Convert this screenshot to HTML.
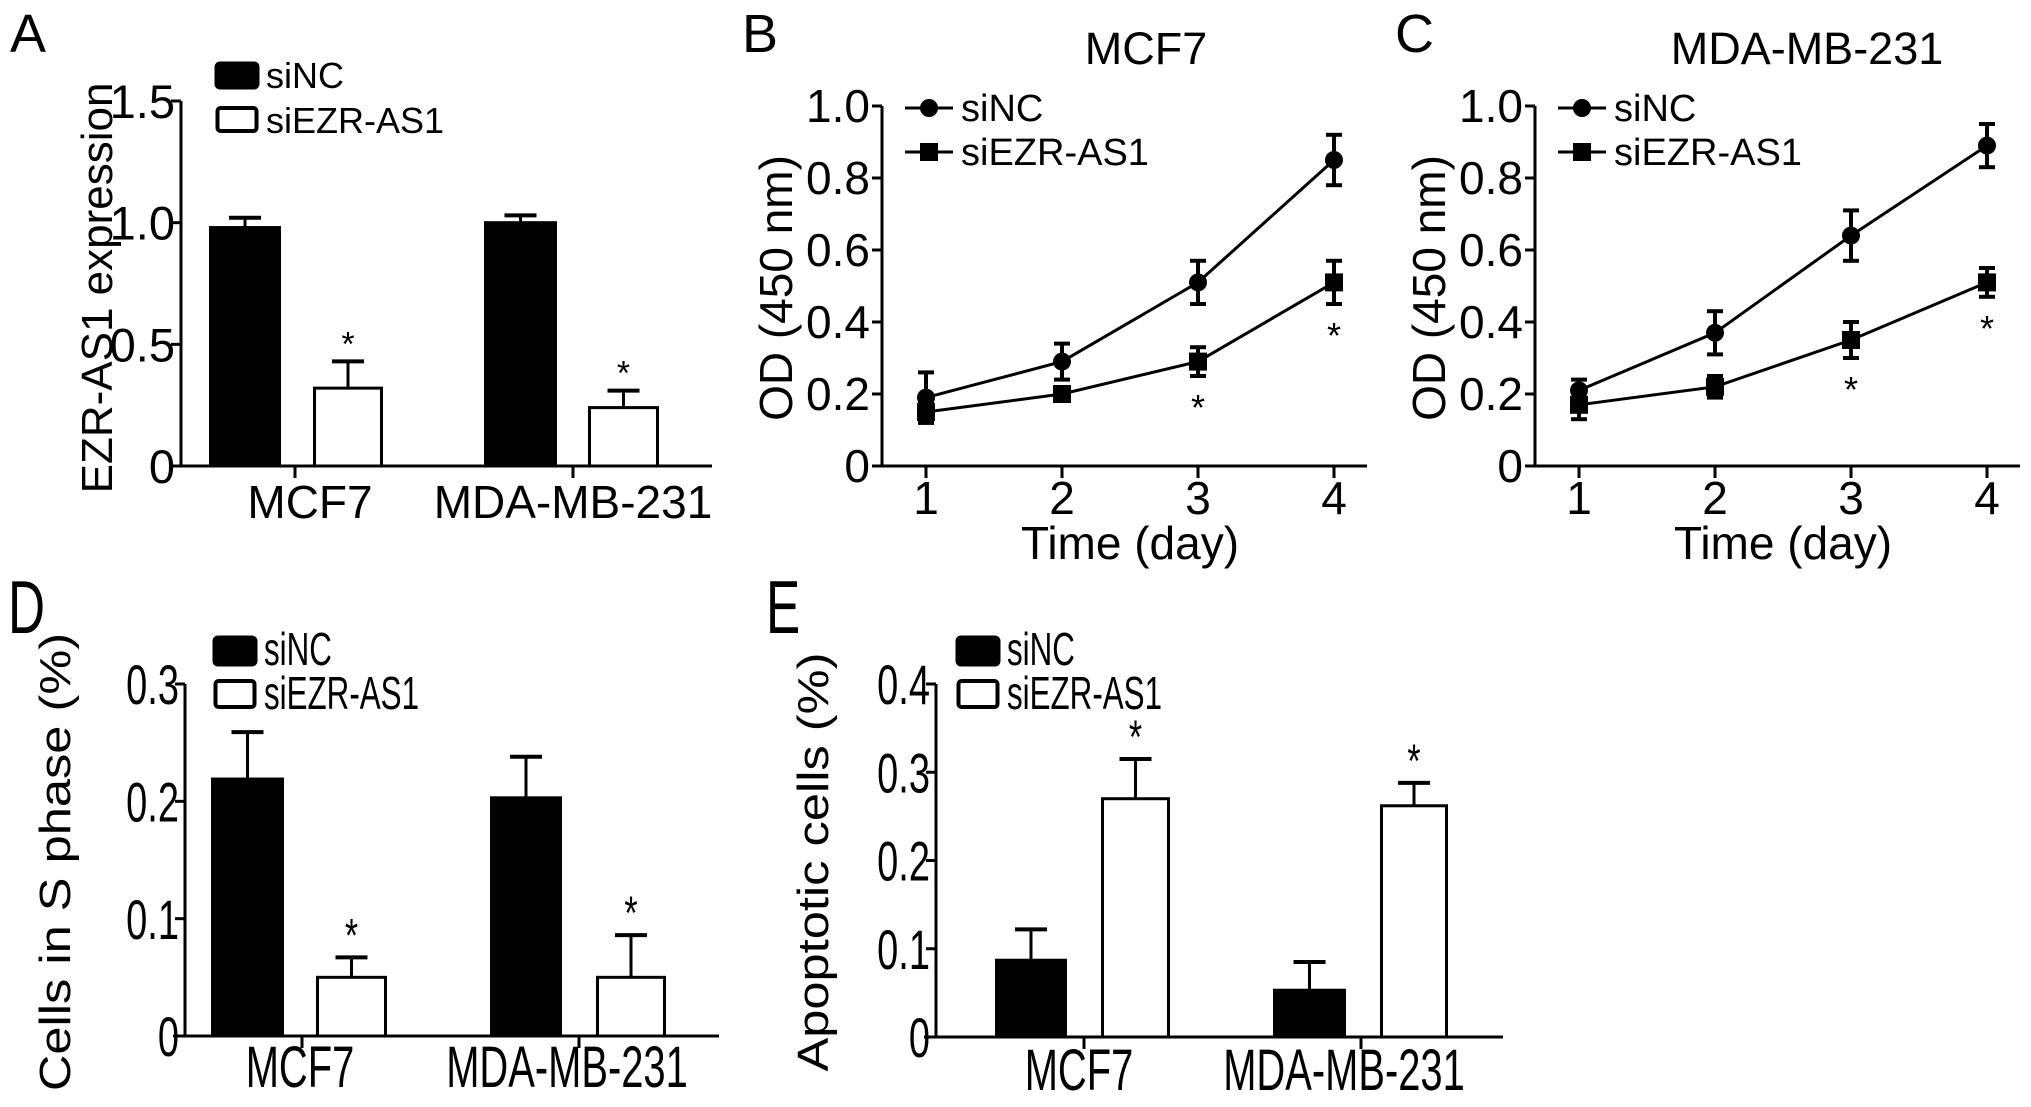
<!DOCTYPE html>
<html><head><meta charset="utf-8">
<style>
html,body{margin:0;padding:0;background:#fff;}
svg{display:block;font-family:"Liberation Sans",Arial,sans-serif;}
</style></head>
<body>
<svg id="fig" width="2031" height="1107" viewBox="0 0 2031 1107" xmlns="http://www.w3.org/2000/svg"></svg>
<script>
// Panel A data
const aCats = ["MCF7", "MDA-MB-231"];
const aSiNC = [0.98, 1.00];
const aSiNCErr = [0.04, 0.03];
const aSiEZR = [0.32, 0.24];
const aSiEZRErr = [0.11, 0.07];
const aTicks = [0, 0.5, 1.0, 1.5];
const aTickLabels = ["0", "0.5", "1.0", "1.5"];
// Panel B data
const bDays = [1, 2, 3, 4];
const bSiNC = [0.19, 0.29, 0.51, 0.85];
const bSiNCErr = [0.07, 0.05, 0.06, 0.07];
const bSiEZR = [0.15, 0.20, 0.29, 0.51];
const bSiEZRErr = [0.03, 0.01, 0.04, 0.06];
// Panel C data
const cSiNC = [0.21, 0.37, 0.64, 0.89];
const cSiNCErr = [0.03, 0.06, 0.07, 0.06];
const cSiEZR = [0.17, 0.22, 0.35, 0.51];
const cSiEZRErr = [0.04, 0.03, 0.05, 0.04];
const lineTicks = [0, 0.2, 0.4, 0.6, 0.8, 1.0];
const lineTickLabels = ["0", "0.2", "0.4", "0.6", "0.8", "1.0"];
// Panel D data
const dSiNC = [0.219, 0.203];
const dSiNCErr = [0.040, 0.035];
const dSiEZR = [0.050, 0.050];
const dSiEZRErr = [0.017, 0.036];
const dTicks = [0, 0.1, 0.2, 0.3];
const dTickLabels = ["0", "0.1", "0.2", "0.3"];
// Panel E data
const eSiNC = [0.087, 0.053];
const eSiNCErr = [0.035, 0.032];
const eSiEZR = [0.270, 0.262];
const eSiEZRErr = [0.045, 0.026];
const eTicks = [0, 0.1, 0.2, 0.3, 0.4];
const eTickLabels = ["0", "0.1", "0.2", "0.3", "0.4"];

const NS = "http://www.w3.org/2000/svg";
const svg = document.getElementById("fig");
function mk(tag, attrs, parent, text){
  const e = document.createElementNS(NS, tag);
  for (const k in attrs) e.setAttribute(k, attrs[k]);
  if (text !== undefined) e.textContent = text;
  (parent || svg).appendChild(e);
  return e;
}
function txt(parent, x, y, str, fs, anchor, sx, sy){
  return mk("text",{x:0,y:0,"font-size":fs,"text-anchor":anchor||"start",
    transform:`translate(${x},${y}) scale(${sx||1},${sy||1})`},parent,str);
}

function barPanel(o){
  const g = mk("g", {});
  
  
  const sx = o.sx||1, sy = o.sy||1;
  const y = v => o.y0 - v * (o.y0 - o.yTop) / o.ymax;
  const L = txt(g, o.letterX, o.letterY, o.letter, 54, "start", sx, sy);
  
  
  const ya = mk("line", {x1:o.ax, y1:y(o.ymax), x2:o.ax, y2:o.y0, stroke:"#000","stroke-width":3}, g);
  
  
  const xa = mk("line", {x1:o.ax-12, y1:o.y0, x2:o.axEnd, y2:o.y0, stroke:"#000","stroke-width":3}, g);
  
  
  o.ticks.forEach((t,i)=>{
    mk("line",{x1:o.ax-10,y1:y(t),x2:o.ax,y2:y(t),stroke:"#000","stroke-width":3},g);
    const tl = txt(g, o.ax-6, y(t)+o.tickFs*0.36*sy, o.tickLabels[i], o.tickFs, "end", sx, sy);
    
    
  });
  const drawBar = (x0,x1,v,err,fill,nm,star)=>{
    const top = y(v+err);
    const cx = (x0+x1)/2;
    mk("line",{x1:cx,y1:y(v),x2:cx,y2:top,stroke:"#000","stroke-width":3},g);
    mk("line",{x1:cx-16,y1:top,x2:cx+16,y2:top,stroke:"#000","stroke-width":4},g);
    const r = mk("rect",{x:x0+1.5,y:y(v),width:x1-x0-3,height:o.y0-y(v),fill:fill,stroke:"#000","stroke-width":3},g);
    
    
    if (star){
      const s = txt(g, cx, top-6, "*", 34, "middle", 1, sy);
      
      
    }
  };
  o.cats.forEach((c,i)=>{
    drawBar(o.bx[i][0],o.bx[i][1],o.nc[i],o.ncErr[i],"#000","bar-sinc-"+i,false);
    drawBar(o.bx[i][2],o.bx[i][3],o.ez[i],o.ezErr[i],"#fff","bar-siezr-"+i,true);
    mk("line",{x1:o.catTick[i],y1:o.y0,x2:o.catTick[i],y2:o.y0+12,stroke:"#000","stroke-width":3},g);
    const cl = txt(g, o.catTick[i]+o.catOff[i], o.catY, c, o.catFs, "middle", sx, sy);
    
    
  });
  const tt = mk("text",{x:0,y:0,"font-size":o.titleFs,"text-anchor":"middle",transform:`translate(${o.titleX},${o.titleY}) rotate(-90) scale(${o.titleSL||1},1)`},g,o.title);
  
  
  const lg = mk("g",{},g);
  
  
  mk("rect",{x:o.legX,y:o.legY,width:o.legW,height:o.legH||22,rx:4,fill:"#000",stroke:"#000","stroke-width":3},lg);
  const l1 = txt(lg, o.legX+o.legW+8, o.legY+(o.legH||22), "siNC", o.legFs, "start", sx, sy);
  
  
  mk("rect",{x:o.legX+1.5,y:o.legY+o.legGap,width:o.legW-3,height:(o.legH||22)-2,rx:3,fill:"#fff",stroke:"#000","stroke-width":4},lg);
  const l2 = txt(lg, o.legX+o.legW+8, o.legY+o.legGap+(o.legH||22), "siEZR-AS1", o.legFs, "start", sx, sy);
  
  
}

barPanel({name:"panel-a",letter:"A",letterX:10,letterY:52,ax:181,axEnd:712,y0:466,yTop:101,ymax:1.5,
  ticks:aTicks,tickLabels:aTickLabels,tickFs:47,cats:aCats,
  bx:[[209,281,313,383],[484,557,588,659]],nc:aSiNC,ncErr:aSiNCErr,ez:aSiEZR,ezErr:aSiEZRErr,
  catTick:[295,573],catOff:[15,0],catY:518,catFs:46,title:"EZR-AS1 expression",titleX:112,titleY:288,titleFs:44,
  legX:216,legY:63,legW:42,legH:25,legGap:45,legFs:36});

barPanel({name:"panel-d",letter:"D",letterX:8,letterY:633,ax:185,axEnd:719,y0:1036,yTop:684,ymax:0.3,
  ticks:dTicks,tickLabels:dTickLabels,tickFs:40,cats:aCats,sx:0.95,sy:1.4,
  bx:[[211,284,316,387],[490,562,596,666]],nc:dSiNC,ncErr:dSiNCErr,ez:dSiEZR,ezErr:dSiEZRErr,
  catTick:[302,579],catOff:[-2,-12],catY:1087,catFs:42,title:"Cells in S phase (%)",titleSL:1.15,titleX:70,titleY:862,titleFs:44,
  legX:214,legY:637,legW:42,legH:28,legGap:44,legFs:33});

barPanel({name:"panel-e",letter:"E",letterX:766,letterY:633,ax:936,axEnd:1503,y0:1037,yTop:684,ymax:0.4,
  ticks:eTicks,tickLabels:eTickLabels,tickFs:40,cats:aCats,sx:0.95,sy:1.4,
  bx:[[995,1067,1101,1170],[1273,1346,1380,1448]],nc:eSiNC,ncErr:eSiNCErr,ez:eSiEZR,ezErr:eSiEZRErr,
  catTick:[1084,1361],catOff:[-5,-17],catY:1090,catFs:42,title:"Apoptotic cells (%)",titleSL:1.15,titleX:828,titleY:862,titleFs:44,
  legX:957,legY:637,legW:42,legH:28,legGap:44,legFs:33});

function linePanel(o){
  const g = mk("g",{});
  
  
  const y = v => o.y0 - v*(o.y0 - o.yTop)/1.0;
  const x = d => o.x1 + (d-1)*o.dx;
  const L = mk("text",{x:o.ax-140,y:52,"font-size":54},g,o.letter);
  
  
  const T = mk("text",{x:o.titleCx,y:64,"font-size":45,"text-anchor":"middle"},g,o.title);
  
  
  const ya = mk("line",{x1:o.ax,y1:y(1),x2:o.ax,y2:o.y0,stroke:"#000","stroke-width":3},g);
  
  
  const xa = mk("line",{x1:o.ax-10,y1:o.y0,x2:o.ax+485,y2:o.y0,stroke:"#000","stroke-width":3},g);
  
  
  lineTicks.forEach((t,i)=>{
    mk("line",{x1:o.ax-10,y1:y(t),x2:o.ax,y2:y(t),stroke:"#000","stroke-width":3},g);
    const tl = mk("text",{x:o.ax-12,y:y(t)+16,"font-size":46,"text-anchor":"end"},g,lineTickLabels[i]);
    
    
  });
  bDays.forEach(d=>{
    mk("line",{x1:x(d),y1:o.y0,x2:x(d),y2:o.y0+12,stroke:"#000","stroke-width":3},g);
    const tl = mk("text",{x:x(d),y:o.y0+48,"font-size":46,"text-anchor":"middle"},g,String(d));
    
    
  });
  const xt = mk("text",{x:(x(1)+x(4))/2,y:o.y0+93,"font-size":46,"text-anchor":"middle"},g,"Time (day)");
  
  
  const yt = mk("text",{x:0,y:0,"font-size":46,"text-anchor":"middle",transform:`translate(${o.ax-90},${288}) rotate(-90)`},g,"OD (450 nm)");
  
  
  const series = (vals,errs,shape,nm,stars)=>{
    const pts = bDays.map((d,i)=>x(d)+","+y(vals[i])).join(" ");
    const pl = mk("polyline",{points:pts,fill:"none",stroke:"#000","stroke-width":3},g);
    
    
    bDays.forEach((d,i)=>{
      const cx=x(d), lo=y(vals[i]-errs[i]), hi=y(vals[i]+errs[i]);
      mk("line",{x1:cx,y1:lo,x2:cx,y2:hi,stroke:"#000","stroke-width":4},g);
      mk("line",{x1:cx-8,y1:lo,x2:cx+8,y2:lo,stroke:"#000","stroke-width":4},g);
      mk("line",{x1:cx-8,y1:hi,x2:cx+8,y2:hi,stroke:"#000","stroke-width":4},g);
      let m;
      if (shape==="circle") m = mk("circle",{cx:cx,cy:y(vals[i]),r:9,fill:"#000"},g);
      else m = mk("rect",{x:cx-9,y:y(vals[i])-9,width:18,height:18,fill:"#000"},g);
      
      
      if (stars && i>=2){
        const s = mk("text",{x:cx,y:lo+44,"font-size":36,"text-anchor":"middle"},g,"*");
        
        
      }
    });
  };
  series(o.nc,o.ncErr,"circle","sinc",false);
  series(o.ez,o.ezErr,"square","siezr-as1",true);
  const lg = mk("g",{},g);
  
  
  const lx = o.ax+23;
  mk("line",{x1:lx,y1:108,x2:lx+48,y2:108,stroke:"#000","stroke-width":3},lg);
  mk("circle",{cx:lx+24,cy:108,r:9,fill:"#000"},lg);
  const t1 = mk("text",{x:lx+56,y:121,"font-size":38},lg,"siNC");
  
  
  mk("line",{x1:lx,y1:152,x2:lx+48,y2:152,stroke:"#000","stroke-width":3},lg);
  mk("rect",{x:lx+15,y:143,width:18,height:18,fill:"#000"},lg);
  const t2 = mk("text",{x:lx+56,y:165,"font-size":38},lg,"siEZR-AS1");
  
  
}

linePanel({name:"panel-b",letter:"B",title:"MCF7",titleCx:1146,ax:882,x1:926,dx:136,y0:466,yTop:106,
  nc:bSiNC,ncErr:bSiNCErr,ez:bSiEZR,ezErr:bSiEZRErr});
linePanel({name:"panel-c",letter:"C",title:"MDA-MB-231",titleCx:1807,ax:1535,x1:1579,dx:136,y0:466,yTop:106,
  nc:cSiNC,ncErr:cSiNCErr,ez:cSiEZR,ezErr:cSiEZRErr});
</script>
</body></html>
